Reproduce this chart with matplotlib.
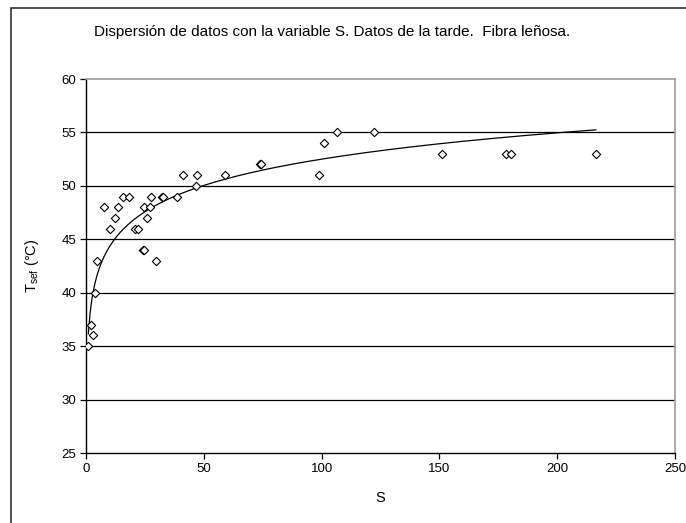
import numpy as np
import matplotlib.pyplot as plt
from matplotlib.patches import Rectangle

plt.rcParams['font.family'] = ['Liberation Sans', 'DejaVu Sans']
plt.rcParams['mathtext.fontset'] = 'custom'
plt.rcParams['mathtext.rm'] = 'Liberation Sans'

# S values and T sef (°C)
s_vals = [1.0, 2.0, 3.0, 3.8, 4.8, 7.5, 10.2, 12.1, 13.5, 15.8, 18.3, 20.9, 22.0,
          24.3, 24.5, 24.6, 25.7, 27.3, 27.4, 29.8, 32.1, 32.8, 38.5, 41.3, 46.8,
          47.3, 58.8, 74.0, 74.2, 98.8, 101.2, 106.6, 122.4, 150.9, 178.3, 180.4, 216.4]
t_vals = [35, 37, 36, 40, 43, 48, 46, 47, 48, 49, 49, 46, 46,
          44, 44, 48, 47, 48, 49, 43, 49, 49, 49, 51, 50,
          51, 51, 52, 52, 51, 54, 55, 55, 53, 53, 53, 53]

title = 'Dispersión de datos con la variable S. Datos de la tarde.  Fibra leñosa.'
x_ticks = [0, 50, 100, 150, 200, 250]
y_ticks = [25, 30, 35, 40, 45, 50, 55, 60]

s = np.array(s_vals)
t = np.array(t_vals)

# logarithmic trend line (least squares on ln S), like the spreadsheet one
b, a = np.polyfit(np.log(s), t, 1)
s_line = np.linspace(s.min(), s.max(), 300)
t_line = a + b * np.log(s_line)

fig = plt.figure(figsize=(6.86, 5.23), dpi=100)
ax = fig.add_axes([86 / 686, 70 / 523, 589 / 686, 374 / 523])

for yv in y_ticks[1:-1]:
    ax.axhline(yv, color='black', lw=0.9, zorder=1)

ax.plot(s_line, t_line, color='black', lw=0.9, zorder=2)
ax.scatter(s, t, marker='D', s=18, facecolors='white', edgecolors='black',
           linewidths=0.8, zorder=3)

ax.set_xlim(0, 250)
ax.set_ylim(25, 60)
ax.set_xticks(x_ticks)
ax.set_yticks(y_ticks)
ax.tick_params(axis='both', labelsize=9.5, direction='out', length=4, width=0.9,
               color='black', pad=3)
for side in ['top', 'right']:
    ax.spines[side].set_color('#999999')
    ax.spines[side].set_linewidth(1.2)
for side in ['left', 'bottom']:
    ax.spines[side].set_color('black')
    ax.spines[side].set_linewidth(1.0)

ax.set_xlabel('S', fontsize=10.5, labelpad=12)
ax.set_ylabel(r'T$_{\mathrm{sef}}$ (°C)', fontsize=10.5, labelpad=15)
fig.text(332 / 686, 1 - 32 / 523, title, ha='center', va='center', fontsize=11)

# outer chart border (cut off at right and bottom edges)
fig.patches.append(Rectangle((11 / 686, -0.1), 1.2, 1 - 8 / 523 + 0.1,
                             transform=fig.transFigure, fill=False,
                             edgecolor='#333333', lw=1.2))

fig.savefig('out.png', dpi=100)
